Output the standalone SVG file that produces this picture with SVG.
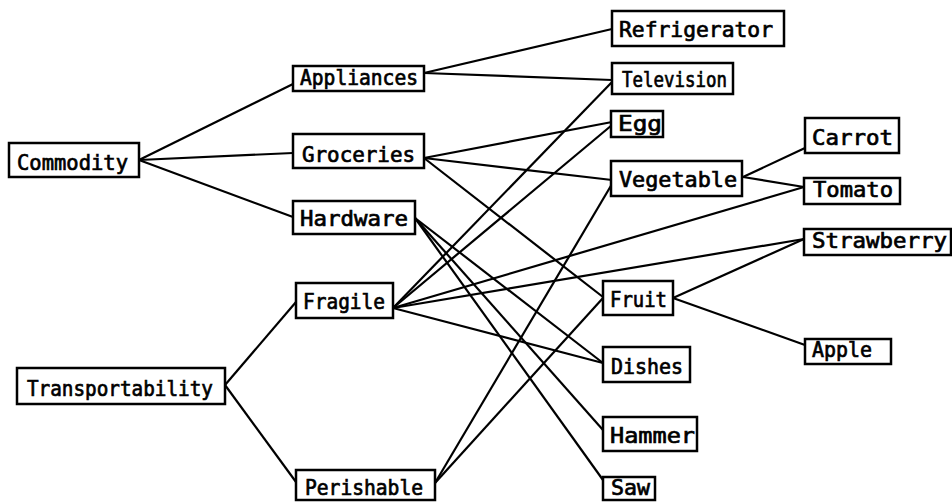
<svg xmlns="http://www.w3.org/2000/svg" width="952" height="502" viewBox="0 0 952 502">
<style>
.box{fill:#fff;stroke:#000;stroke-width:2.5}
.lbl{font-family:"DejaVu Sans Mono","Liberation Mono",monospace;font-size:21px;fill:#000;stroke:#000;stroke-width:0.7}
.edge{stroke:#000;stroke-width:2.2;fill:none}
</style>
<rect width="952" height="502" fill="#fff"/>
<g id="connectors">
<line class="edge" x1="139" y1="160" x2="293" y2="84"/>
<line class="edge" x1="139" y1="160" x2="293" y2="153"/>
<line class="edge" x1="139" y1="160" x2="293" y2="217"/>
<line class="edge" x1="424" y1="73" x2="612" y2="29"/>
<line class="edge" x1="424" y1="73" x2="612" y2="80"/>
<line class="edge" x1="424" y1="158" x2="612" y2="122"/>
<line class="edge" x1="424" y1="158" x2="612" y2="180"/>
<line class="edge" x1="424" y1="158" x2="603" y2="297"/>
<line class="edge" x1="415" y1="218" x2="603" y2="363"/>
<line class="edge" x1="415" y1="218" x2="603" y2="430"/>
<line class="edge" x1="415" y1="218" x2="603" y2="480"/>
<line class="edge" x1="393" y1="308" x2="612" y2="82"/>
<line class="edge" x1="393" y1="308" x2="612" y2="125"/>
<line class="edge" x1="393" y1="308" x2="804" y2="187"/>
<line class="edge" x1="393" y1="308" x2="804" y2="239"/>
<line class="edge" x1="393" y1="308" x2="603" y2="363"/>
<line class="edge" x1="435" y1="483" x2="612" y2="184"/>
<line class="edge" x1="435" y1="483" x2="603" y2="298"/>
<line class="edge" x1="743" y1="177" x2="805" y2="148"/>
<line class="edge" x1="743" y1="177" x2="804" y2="187"/>
<line class="edge" x1="673" y1="298" x2="804" y2="239"/>
<line class="edge" x1="673" y1="298" x2="805" y2="345"/>
<line class="edge" x1="225" y1="385" x2="296" y2="302"/>
<line class="edge" x1="225" y1="385" x2="296" y2="482"/>
</g>
<g id="commodity"><rect class="box" x="9" y="143" width="130" height="34"/><text class="lbl" x="17" y="170" textLength="111" lengthAdjust="spacingAndGlyphs">Commodity</text></g>
<g id="appliances"><rect class="box" x="293" y="66" width="131" height="25"/><text class="lbl" x="300" y="85" textLength="118" lengthAdjust="spacingAndGlyphs">Appliances</text></g>
<g id="groceries"><rect class="box" x="293" y="134" width="131" height="34"/><text class="lbl" x="302" y="162" textLength="113" lengthAdjust="spacingAndGlyphs">Groceries</text></g>
<g id="hardware"><rect class="box" x="293" y="201" width="122" height="33"/><text class="lbl" x="300" y="226" textLength="108" lengthAdjust="spacingAndGlyphs">Hardware</text></g>
<g id="refrigerator"><rect class="box" x="612" y="11" width="172" height="35"/><text class="lbl" x="619" y="37" textLength="154" lengthAdjust="spacingAndGlyphs">Refrigerator</text></g>
<g id="television"><rect class="box" x="612" y="63" width="121" height="31"/><text class="lbl" x="622" y="87" textLength="105" lengthAdjust="spacingAndGlyphs">Television</text></g>
<g id="egg"><rect class="box" x="611" y="111" width="52" height="26"/><text class="lbl" x="618" y="131" textLength="44" lengthAdjust="spacingAndGlyphs">Egg</text></g>
<g id="vegetable"><rect class="box" x="611" y="161" width="131" height="35"/><text class="lbl" x="619" y="187" textLength="118" lengthAdjust="spacingAndGlyphs">Vegetable</text></g>
<g id="carrot"><rect class="box" x="805" y="118" width="94" height="35"/><text class="lbl" x="812" y="145" textLength="81" lengthAdjust="spacingAndGlyphs">Carrot</text></g>
<g id="tomato"><rect class="box" x="804" y="178" width="96" height="26"/><text class="lbl" x="813" y="197" textLength="80" lengthAdjust="spacingAndGlyphs">Tomato</text></g>
<g id="strawberry"><rect class="box" x="804" y="229" width="147" height="26"/><text class="lbl" x="812" y="248" textLength="135" lengthAdjust="spacingAndGlyphs">Strawberry</text></g>
<g id="fruit"><rect class="box" x="603" y="281" width="70" height="34"/><text class="lbl" x="610" y="307" textLength="57" lengthAdjust="spacingAndGlyphs">Fruit</text></g>
<g id="apple"><rect class="box" x="805" y="339" width="86" height="25"/><text class="lbl" x="812" y="357" textLength="60" lengthAdjust="spacingAndGlyphs">Apple</text></g>
<g id="dishes"><rect class="box" x="603" y="347" width="87" height="35"/><text class="lbl" x="611" y="374" textLength="72" lengthAdjust="spacingAndGlyphs">Dishes</text></g>
<g id="hammer"><rect class="box" x="603" y="417" width="94" height="34"/><text class="lbl" x="610" y="443" textLength="85" lengthAdjust="spacingAndGlyphs">Hammer</text></g>
<g id="saw"><rect class="box" x="603" y="477" width="52" height="23"/><text class="lbl" x="611" y="495" textLength="39" lengthAdjust="spacingAndGlyphs">Saw</text></g>
<g id="transportability"><rect class="box" x="17" y="368" width="208" height="36"/><text class="lbl" x="27" y="396" textLength="186" lengthAdjust="spacingAndGlyphs">Transportability</text></g>
<g id="fragile"><rect class="box" x="296" y="283" width="97" height="35"/><text class="lbl" x="303" y="309" textLength="82" lengthAdjust="spacingAndGlyphs">Fragile</text></g>
<g id="perishable"><rect class="box" x="296" y="470" width="139" height="30"/><text class="lbl" x="305" y="495" textLength="118" lengthAdjust="spacingAndGlyphs">Perishable</text></g>
</svg>
